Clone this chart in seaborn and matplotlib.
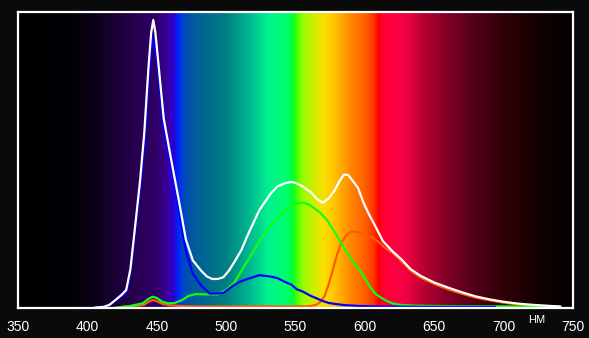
import numpy as np
import pandas as pd
import matplotlib
matplotlib.use("Agg")
import matplotlib.pyplot as plt
import seaborn as sns
from matplotlib.colors import LinearSegmentedColormap, Normalize

# ---------------- data ----------------
white_nm = [405, 412, 416, 420, 425, 428, 431, 435, 438, 441, 444, 446, 447.5, 449,
            451.5, 455, 460, 466, 471, 476, 482, 486, 490, 494, 498, 502, 506, 511,
            516, 524, 532, 537, 542, 547, 551, 555, 561, 566, 570, 574, 578, 582,
            585, 588, 591, 595, 599, 603, 607, 613, 620, 626, 633, 640, 650, 660,
            670, 680, 690, 700, 710, 720, 730, 741]
white_val = [0.0, 0.003, 0.01, 0.025, 0.045, 0.06, 0.13, 0.30, 0.43, 0.59, 0.81, 0.93,
             0.972, 0.93, 0.81, 0.64, 0.51, 0.36, 0.23, 0.16, 0.125, 0.106, 0.097,
             0.097, 0.103, 0.125, 0.155, 0.195, 0.25, 0.33, 0.385, 0.41, 0.42, 0.425,
             0.42, 0.41, 0.39, 0.365, 0.355, 0.37, 0.395, 0.43, 0.45, 0.448, 0.43,
             0.405, 0.355, 0.315, 0.28, 0.225, 0.19, 0.165, 0.13, 0.108, 0.085, 0.068,
             0.052, 0.038, 0.028, 0.02, 0.014, 0.01, 0.007, 0.004]

blue_nm = [405, 412, 416, 420, 425, 428, 431, 435, 438, 441, 444, 446, 447.5, 449,
           451.5, 455, 460, 466, 471, 476, 482, 488, 494, 498, 505, 510, 516, 524,
           532, 537, 542, 547, 551, 555, 561, 566, 570, 574, 578, 585, 595, 610,
           640, 670, 694]
blue_val = [0.0, 0.003, 0.008, 0.022, 0.04, 0.05, 0.115, 0.28, 0.40, 0.55, 0.76, 0.87,
            0.915, 0.88, 0.77, 0.61, 0.48, 0.33, 0.19, 0.115, 0.075, 0.048, 0.048,
            0.05, 0.074, 0.088, 0.098, 0.11, 0.105, 0.10, 0.088, 0.078, 0.062, 0.055,
            0.04, 0.03, 0.022, 0.016, 0.013, 0.009, 0.006, 0.004, 0.003, 0.003, 0.003]

green_nm = [420, 430, 440, 444, 447, 450, 454, 458, 463, 468, 473, 478, 485, 494,
            500, 506, 513, 520, 526, 532, 538, 544, 550, 555, 559, 563, 568, 573,
            579, 585, 590, 595, 600, 604, 608, 613, 617, 621, 627, 635, 650, 670,
            690, 710, 740]
green_val = [0.0, 0.005, 0.015, 0.03, 0.037, 0.033, 0.02, 0.015, 0.016, 0.025, 0.04,
             0.046, 0.045, 0.045, 0.06, 0.085, 0.14, 0.193, 0.24, 0.277, 0.31, 0.334,
             0.35, 0.355, 0.35, 0.338, 0.32, 0.294, 0.25, 0.203, 0.165, 0.135, 0.10,
             0.068, 0.045, 0.03, 0.02, 0.013, 0.009, 0.007, 0.006, 0.005, 0.005,
             0.004, 0.004]

orange_nm = [425, 435, 441, 444, 447, 450, 454, 460, 470, 480, 500, 530, 540, 560,
             565, 568, 571, 574, 577, 580, 583, 587, 591, 595, 600, 605, 610, 615,
             620, 626, 633, 640, 650, 660, 670, 680, 690, 700, 710, 720, 727]
orange_val = [0.003, 0.006, 0.01, 0.02, 0.026, 0.022, 0.013, 0.008, 0.005, 0.004,
              0.004, 0.005, 0.004, 0.005, 0.01, 0.02, 0.04, 0.08, 0.13, 0.18, 0.22,
              0.248, 0.258, 0.255, 0.248, 0.238, 0.222, 0.20, 0.185, 0.158, 0.125,
              0.102, 0.08, 0.062, 0.047, 0.034, 0.025, 0.017, 0.011, 0.007, 0.005]

x_ticks = [350, 400, 450, 500, 550, 600, 650, 700, 750]
unit_label = "НМ"

# spectrum background stops (nm, colour)
spec_nm = [350, 390, 405, 420, 435, 450, 458, 462, 465, 468, 475, 485, 500, 515,
           530, 543, 548, 550, 555, 562, 570, 575, 582, 590, 600, 607, 610, 613,
           620, 630, 645, 660, 680, 700, 720, 740, 750]
spec_col = ["#000000", "#030008", "#0c0018", "#1a0035", "#280050", "#300068",
            "#3a00a0", "#2a00d0", "#0020ff", "#0040d0", "#005aa0", "#006890",
            "#008080", "#00b090", "#00f090", "#00ff70", "#00ff40", "#30ff00",
            "#90ff00", "#c8f000", "#f8e000", "#ffd000", "#ffb000", "#ff8800",
            "#ff6000", "#ff3000", "#ff0000", "#ff0030", "#ff0040", "#f00040",
            "#b00030", "#800025", "#500015", "#300008", "#180002", "#080000",
            "#050000"]

# ---------------- figure ----------------
sns.set_style("dark")
plt.rcParams["font.family"] = ["Liberation Sans Narrow", "Liberation Sans", "DejaVu Sans"]

W, H = 589, 338
fig = plt.figure(figsize=(W / 100, H / 100), dpi=100, facecolor="#0a0a0a")
ax = fig.add_axes([18 / W, (H - 307.7) / H, (573 - 18) / W, (307.7 - 11.7) / H])
ax.set_facecolor("#0a0a0a")

lo, hi = spec_nm[0], spec_nm[-1]
cmap = LinearSegmentedColormap.from_list(
    "spec", [((n - lo) / (hi - lo), c) for n, c in zip(spec_nm, spec_col)], N=1024)
grad = np.linspace(lo, hi, 1200)[None, :]
ax.imshow(grad, extent=[lo, hi, 0, 1], aspect="auto", cmap=cmap,
          norm=Normalize(lo, hi), zorder=0, interpolation="bilinear")

series = [
    ("orange", orange_nm, orange_val, "#ff5a00"),
    ("green", green_nm, green_val, "#10ff10"),
    ("blue", blue_nm, blue_val, "#0000ff"),
    ("white", white_nm, white_val, "#ffffff"),
]
for i, (name, xs, ys, col) in enumerate(series):
    df = pd.DataFrame({"nm": xs, "val": ys})
    sns.lineplot(data=df, x="nm", y="val", ax=ax, color=col, lw=1.6,
                 estimator=None, sort=False, zorder=3 + i)

ax.set_xlim(350, 750)
ax.set_ylim(0, 1)
ax.set_xticks(x_ticks)
ax.set_xticklabels([str(t) for t in x_ticks])
ax.set_yticks([])
ax.set_xlabel("")
ax.set_ylabel("")
ax.grid(False)
for s in ax.spines.values():
    s.set_visible(True)
    s.set_color("white")
    s.set_linewidth(1.6)
    s.set_zorder(10)
ax.tick_params(axis="x", colors="white", direction="out", length=4, width=1.3,
               pad=5, labelsize=10, labelcolor="white")

ax.text(724, -0.04, unit_label, transform=ax.get_xaxis_transform(),
        color="white", fontsize=8, ha="center", va="center",
        family=["Liberation Sans", "DejaVu Sans"])

fig.savefig("out.png", dpi=100, facecolor=fig.get_facecolor())
